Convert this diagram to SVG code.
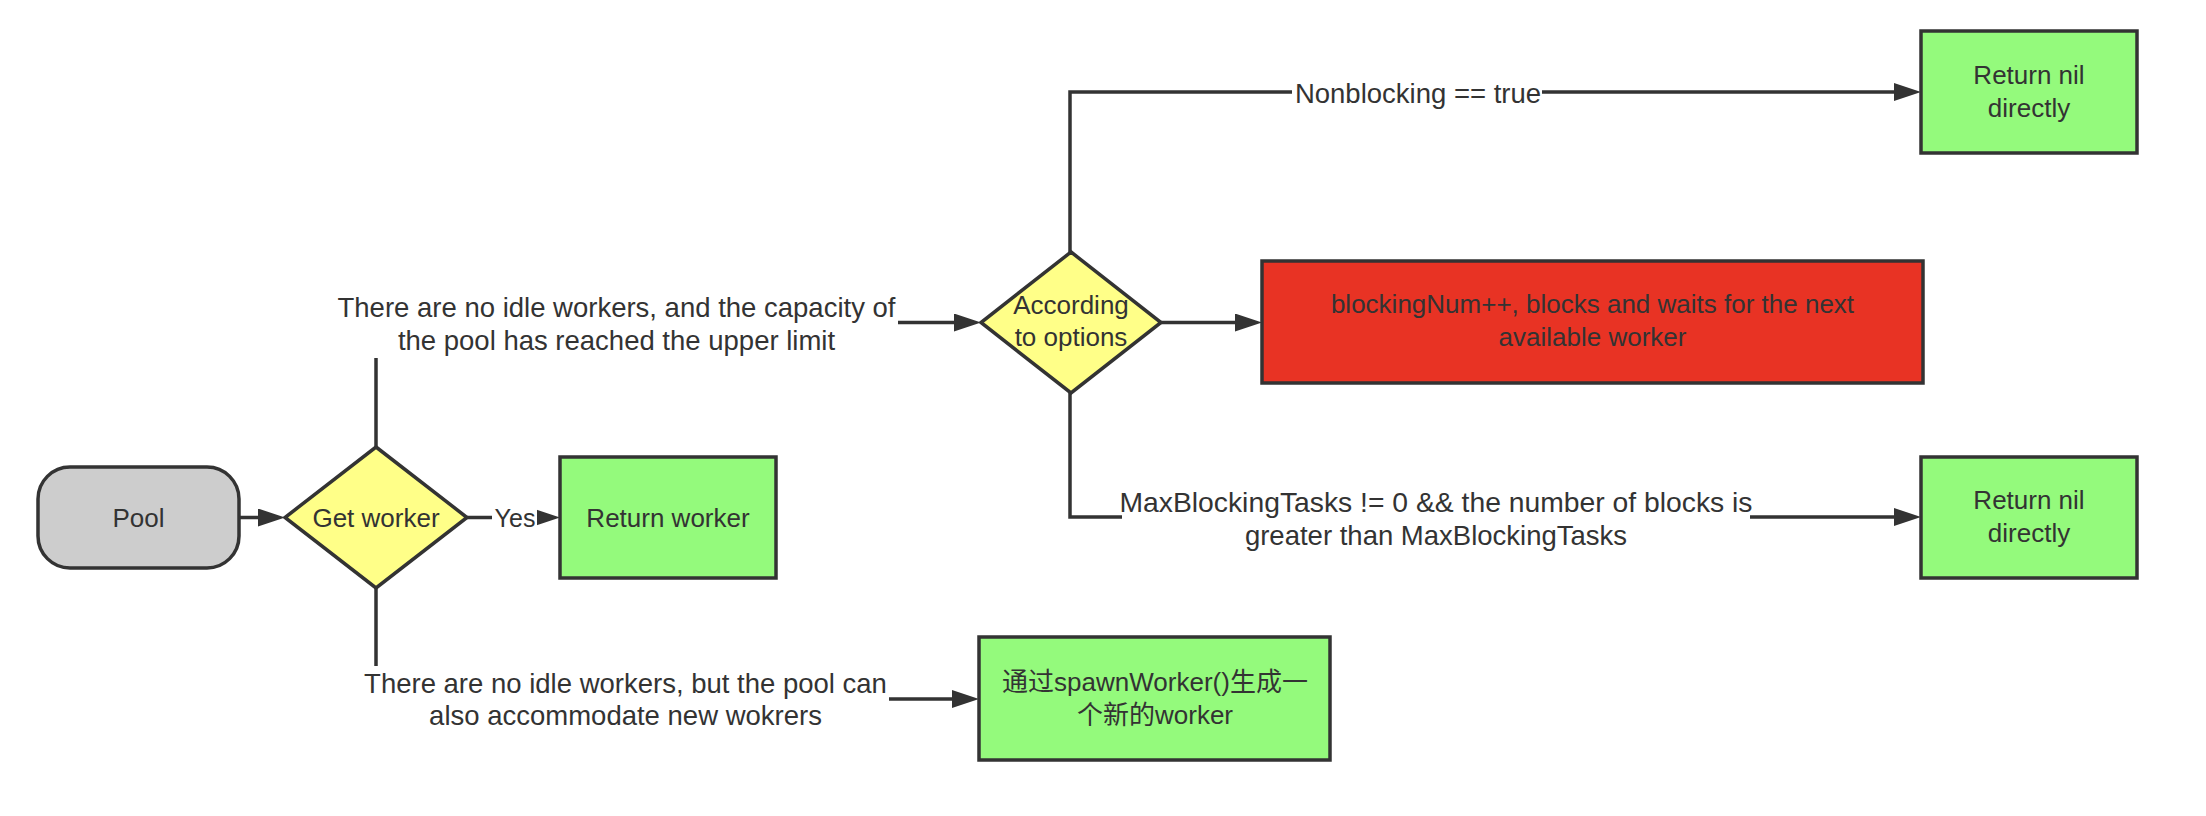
<svg xmlns="http://www.w3.org/2000/svg" width="2206" height="816" viewBox="0 0 2206 816">
<style>
.shape{stroke:#333333;stroke-width:3.5;stroke-linejoin:miter}
.grey{fill:#cdcdcd}
.yellow{fill:#ffff88}
.green{fill:#94fa7c}
.red{fill:#e83324}
.t{font-family:"Liberation Sans","Noto Sans CJK SC",sans-serif;font-size:26px;fill:#333333;text-anchor:middle}
.lbl{font-family:"Liberation Sans","Noto Sans CJK SC",sans-serif;font-size:27.5px;fill:#333333;text-anchor:middle}
.conn{fill:none;stroke:#333333;stroke-width:3.5}
.bg{fill:#ffffff}
</style>
<defs>
<marker id="arrow" markerUnits="userSpaceOnUse" markerWidth="28" markerHeight="20" refX="17" refY="9" orient="auto">
<path d="M0,0 L27,9 L0,18 Z" fill="#333333"/>
</marker>
</defs>
<rect width="2206" height="816" fill="#ffffff"/>
<g id="connectors">
<path class="conn" d="M239,517.5 H275" marker-end="url(#arrow)"/>
<path class="conn" d="M467,517.5 H550" marker-end="url(#arrow)"/>
<path class="conn" d="M376,447 V322.5 H971" marker-end="url(#arrow)"/>
<path class="conn" d="M376,588 V699 H969" marker-end="url(#arrow)"/>
<path class="conn" d="M1161,322.5 H1252" marker-end="url(#arrow)"/>
<path class="conn" d="M1070,252 V92 H1911" marker-end="url(#arrow)"/>
<path class="conn" d="M1070,393 V517 H1911" marker-end="url(#arrow)"/>
<g id="connector-labels">
<rect class="bg" x="492" y="500" width="45" height="34"/>
<text class="lbl" x="515" y="527" style="font-size:25px">Yes</text>
<rect class="bg" x="336" y="292" width="562" height="66"/>
<text class="lbl" x="616.5" y="317">There are no idle workers, and the capacity of</text>
<text class="lbl" x="616.5" y="350">the pool has reached the upper limit</text>
<rect class="bg" x="361" y="666" width="528" height="68"/>
<text class="lbl" x="625.5" y="693">There are no idle workers, but the pool can</text>
<text class="lbl" x="625.5" y="725">also accommodate new wokrers</text>
<rect class="bg" x="1292" y="76" width="250" height="34"/>
<text class="lbl" x="1418" y="103">Nonblocking == true</text>
<rect class="bg" x="1122" y="488" width="628" height="66"/>
<text class="lbl" x="1436" y="512" style="font-size:28.3px">MaxBlockingTasks != 0 &amp;&amp; the number of blocks is</text>
<text class="lbl" x="1436" y="545">greater than MaxBlockingTasks</text>
</g>
</g>
<g id="pool">
<rect class="shape grey" x="38" y="467" width="201" height="101" rx="32" ry="32"/>
<text class="t" x="138.5" y="527">Pool</text>
</g>
<g id="get-worker">
<polygon class="shape yellow" points="376,447 467,517.5 376,588 285,517.5"/>
<text class="t" x="376" y="527">Get worker</text>
</g>
<g id="return-worker">
<rect class="shape green" x="560" y="457" width="216" height="121"/>
<text class="t" x="668" y="527">Return worker</text>
</g>
<g id="according-to-options">
<polygon class="shape yellow" points="1071,252 1161,322.5 1071,393 981,322.5"/>
<text class="t" x="1071" y="314">According</text>
<text class="t" x="1071" y="346">to options</text>
</g>
<g id="blocking">
<rect class="shape red" x="1262" y="261" width="661" height="122"/>
<text class="t" x="1592.5" y="313">blockingNum++, blocks and waits for the next</text>
<text class="t" x="1592.5" y="346">available worker</text>
</g>
<g id="return-nil-top">
<rect class="shape green" x="1921" y="31" width="216" height="122"/>
<text class="t" x="2029" y="84">Return nil</text>
<text class="t" x="2029" y="117">directly</text>
</g>
<g id="return-nil-bottom">
<rect class="shape green" x="1921" y="457" width="216" height="121"/>
<text class="t" x="2029" y="509">Return nil</text>
<text class="t" x="2029" y="542">directly</text>
</g>
<g id="spawn-worker">
<rect class="shape green" x="979" y="637" width="351" height="123"/>
<text class="t" x="1155" y="691">通过spawnWorker()生成一</text>
<text class="t" x="1155" y="724">个新的worker</text>
</g>
</svg>
